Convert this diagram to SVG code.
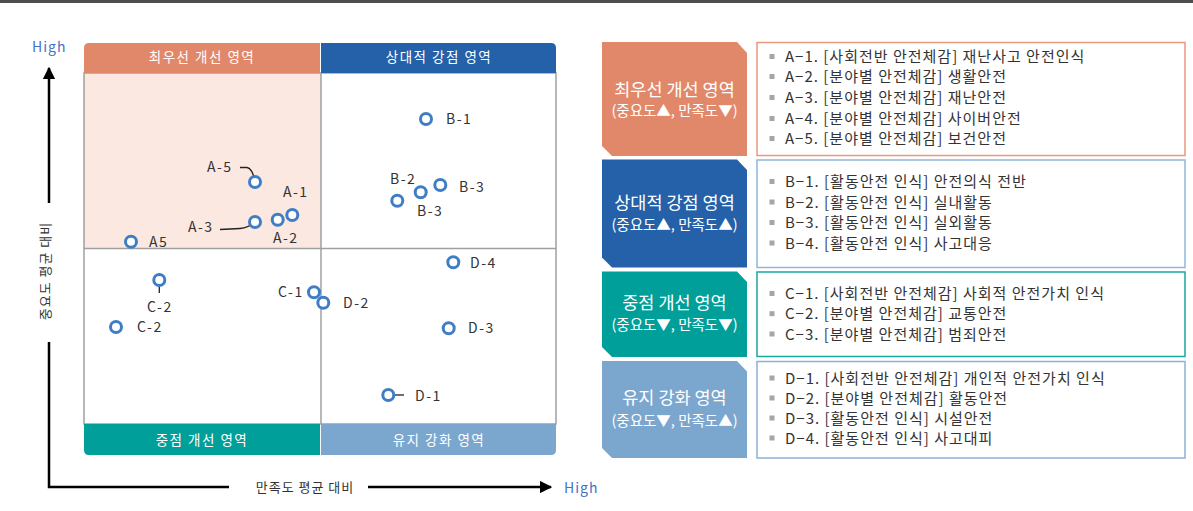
<svg xmlns="http://www.w3.org/2000/svg" width="1193" height="511" viewBox="0 0 1193 511">
<defs>
<style>
.kr{font-family:"Noto Sans CJK KR","Noto Sans",sans-serif;}
.hd{font-size:13.5px;fill:#fff;letter-spacing:1.5px;text-anchor:middle;}
.pl{font-size:14px;fill:#333;letter-spacing:1.5px;}
.pt{fill:#fff;stroke:#3f7dc4;stroke-width:3;}
.ld{fill:none;stroke:#222;stroke-width:1.3;}
.ax{fill:none;stroke:#000;stroke-width:2.5;}
.fr{fill:none;stroke:#a0a0a0;stroke-width:1.5;}
.hi{font-size:14px;fill:#4472c4;letter-spacing:1px;}
.lb1{font-size:17.5px;fill:#fff;text-anchor:middle;}
.lb2{font-size:14.5px;fill:#fff;text-anchor:middle;}
.li{font-size:15px;fill:#333;letter-spacing:1px;}
.bl{fill:#a6a6a6;}
</style>
<marker id="ah" viewBox="0 0 10 10" refX="9" refY="5" markerWidth="5" markerHeight="5" orient="auto-start-reverse" markerUnits="strokeWidth">
<path d="M0,0 L10,5 L0,10 Z" fill="#000"/>
</marker>
</defs>
<rect x="0" y="0" width="1193" height="3" fill="#4d4d4d"/>

<!-- Quadrant chart -->
<g id="quadrants">
<rect x="84" y="73" width="237" height="175" fill="#fbe8e1"/>
<path d="M84,73 H556 V424 H84 Z" class="fr"/>
<line x1="84" y1="248.5" x2="556" y2="248.5" class="fr"/>
<line x1="321" y1="73" x2="321" y2="424" class="fr"/>
</g>
<g id="hdr-tl">
<path d="M84,73 V48 Q84,43 89,43 H320 V73 Z" fill="#e2886a"/>
<text class="kr hd" x="202" y="62">최우선 개선 영역</text>
</g>
<g id="hdr-tr">
<path d="M321,73 V43 H551 Q556,43 556,48 V73 Z" fill="#2461a8"/>
<text class="kr hd" x="439" y="62">상대적 강점 영역</text>
</g>
<g id="hdr-bl">
<path d="M84,424 H320 V455 H89 Q84,455 84,450 Z" fill="#009f9a"/>
<text class="kr hd" x="202" y="445">중점 개선 영역</text>
</g>
<g id="hdr-br">
<path d="M321,424 H556 V450 Q556,455 551,455 H321 Z" fill="#7ba7cf"/>
<text class="kr hd" x="439" y="445">유지 강화 영역</text>
</g>

<!-- Axes -->
<g id="axes">
<line x1="49" y1="203" x2="49" y2="68" class="ax" marker-end="url(#ah)"/>
<path d="M49,342 V487 H229" class="ax"/>
<line x1="368" y1="487" x2="551" y2="487" class="ax" marker-end="url(#ah)"/>
<text class="kr hi" x="32" y="52">High</text>
<text class="kr hi" x="564" y="493">High</text>
<text class="kr" x="305" y="492" font-size="13" fill="#333" letter-spacing="1" text-anchor="middle">만족도 평균 대비</text>
<text class="kr" transform="translate(50,271) rotate(-90)" font-size="13" fill="#333" letter-spacing="1" text-anchor="middle">중요도 평균 대비</text>
</g>

<!-- Connectors (leader lines) -->
<g id="connectors">
<path class="ld" d="M240,167.5 L247,167.5 Q252,168 255,181"/>
<path class="ld" d="M220,229.5 L240,228.5 Q248,228 255,222"/>
<line class="ld" x1="159.3" y1="280" x2="159.3" y2="293"/>
<line class="ld" x1="388" y1="395" x2="404" y2="395"/>
</g>

<!-- Points -->
<g id="pt-A5"><circle class="pt" cx="255" cy="182" r="5.5"/><text class="kr pl" x="207" y="172">A-5</text></g>
<g id="pt-A3"><circle class="pt" cx="255" cy="222" r="5.5"/><text class="kr pl" x="188" y="232">A-3</text></g>
<g id="pt-A2"><circle class="pt" cx="277.7" cy="219.7" r="5.5"/><text class="kr pl" x="273" y="243">A-2</text></g>
<g id="pt-A1"><circle class="pt" cx="292.3" cy="215" r="5.5"/><text class="kr pl" x="283" y="197">A-1</text></g>
<g id="pt-A5b"><circle class="pt" cx="131" cy="241.7" r="5.5"/><text class="kr pl" x="149" y="247">A5</text></g>
<g id="pt-B1"><circle class="pt" cx="426" cy="119" r="5.5"/><text class="kr pl" x="446" y="124">B-1</text></g>
<g id="pt-B2"><circle class="pt" cx="397.3" cy="200.7" r="5.5"/><text class="kr pl" x="390" y="184">B-2</text></g>
<g id="pt-B3a"><circle class="pt" cx="420.7" cy="192.3" r="5.5"/><text class="kr pl" x="417" y="216">B-3</text></g>
<g id="pt-B3b"><circle class="pt" cx="440.3" cy="185" r="5.5"/><text class="kr pl" x="459" y="192">B-3</text></g>
<g id="pt-C2a"><circle class="pt" cx="159.3" cy="280" r="5.5"/><text class="kr pl" x="147" y="312">C-2</text></g>
<g id="pt-C2b"><circle class="pt" cx="116" cy="327" r="5.5"/><text class="kr pl" x="137" y="332">C-2</text></g>
<g id="pt-C1"><circle class="pt" cx="314" cy="292.3" r="5.5"/><text class="kr pl" x="278" y="297">C-1</text></g>
<g id="pt-D2"><circle class="pt" cx="323.3" cy="302.7" r="5.5"/><text class="kr pl" x="343" y="308">D-2</text></g>
<g id="pt-D4"><circle class="pt" cx="453.3" cy="262.3" r="5.5"/><text class="kr pl" x="470" y="268">D-4</text></g>
<g id="pt-D3"><circle class="pt" cx="448.7" cy="328.3" r="5.5"/><text class="kr pl" x="468" y="333">D-3</text></g>
<g id="pt-D1"><circle class="pt" cx="388.3" cy="395" r="5.5"/><text class="kr pl" x="415" y="401">D-1</text></g>

<!-- Legend A -->
<g id="label-A">
<path d="M602,42 H737 L747,53 V156 H612 L602,146 Z" fill="#e2886a"/>
<text class="kr lb1" x="674.5" y="96">최우선 개선 영역</text>
<text class="kr lb2" x="674.5" y="116">(중요도▲, 만족도▼)</text>
</g>
<g id="list-A">
<rect x="757" y="42.5" width="428" height="113" fill="#fff" stroke="#e8997f" stroke-width="1.5"/>
<rect class="bl" x="769.5" y="54" width="5" height="5"/><text class="kr li" x="785" y="62">A−1. [사회전반 안전체감] 재난사고 안전인식</text>
<rect class="bl" x="769.5" y="74" width="5" height="5"/><text class="kr li" x="785" y="82">A−2. [분야별 안전체감] 생활안전</text>
<rect class="bl" x="769.5" y="95" width="5" height="5"/><text class="kr li" x="785" y="103">A−3. [분야별 안전체감] 재난안전</text>
<rect class="bl" x="769.5" y="116" width="5" height="5"/><text class="kr li" x="785" y="124">A−4. [분야별 안전체감] 사이버안전</text>
<rect class="bl" x="769.5" y="136" width="5" height="5"/><text class="kr li" x="785" y="144">A−5. [분야별 안전체감] 보건안전</text>
</g>

<!-- Legend B -->
<g id="label-B">
<path d="M602,159.5 H737 L747,170 V267.5 H612 L602,257.5 Z" fill="#2461a8"/>
<text class="kr lb1" x="674.5" y="209">상대적 강점 영역</text>
<text class="kr lb2" x="674.5" y="230">(중요도▲, 만족도▲)</text>
</g>
<g id="list-B">
<rect x="757" y="160" width="428" height="107.5" fill="#fff" stroke="#8db7dc" stroke-width="1.5"/>
<rect class="bl" x="769.5" y="179" width="5" height="5"/><text class="kr li" x="785" y="187">B−1. [활동안전 인식] 안전의식 전반</text>
<rect class="bl" x="769.5" y="199.5" width="5" height="5"/><text class="kr li" x="785" y="207.5">B−2. [활동안전 인식] 실내활동</text>
<rect class="bl" x="769.5" y="220" width="5" height="5"/><text class="kr li" x="785" y="228">B−3. [활동안전 인식] 실외활동</text>
<rect class="bl" x="769.5" y="240.5" width="5" height="5"/><text class="kr li" x="785" y="248.5">B−4. [활동안전 인식] 사고대응</text>
</g>

<!-- Legend C -->
<g id="label-C">
<path d="M602,271.5 H737 L747,282 V357 H612 L602,347 Z" fill="#009f9a"/>
<text class="kr lb1" x="674.5" y="309">중점 개선 영역</text>
<text class="kr lb2" x="674.5" y="330">(중요도▼, 만족도▼)</text>
</g>
<g id="list-C">
<rect x="757" y="272" width="428" height="84.5" fill="#fff" stroke="#1aa6a2" stroke-width="1.5"/>
<rect class="bl" x="769.5" y="291" width="5" height="5"/><text class="kr li" x="785" y="299">C−1. [사회전반 안전체감] 사회적 안전가치 인식</text>
<rect class="bl" x="769.5" y="311.2" width="5" height="5"/><text class="kr li" x="785" y="319.2">C−2. [분야별 안전체감] 교통안전</text>
<rect class="bl" x="769.5" y="331.5" width="5" height="5"/><text class="kr li" x="785" y="339.5">C−3. [분야별 안전체감] 범죄안전</text>
</g>

<!-- Legend D -->
<g id="label-D">
<path d="M602,361 H737 L747,371.5 V458 H612 L602,448 Z" fill="#7ba7cf"/>
<text class="kr lb1" x="674.5" y="404">유지 강화 영역</text>
<text class="kr lb2" x="674.5" y="426">(중요도▼, 만족도▲)</text>
</g>
<g id="list-D">
<rect x="757" y="361.5" width="428" height="96.5" fill="#fff" stroke="#8eb0d6" stroke-width="1.5"/>
<rect class="bl" x="769.5" y="375.5" width="5" height="5"/><text class="kr li" x="785" y="383.5">D−1. [사회전반 안전체감] 개인적 안전가치 인식</text>
<rect class="bl" x="769.5" y="395.5" width="5" height="5"/><text class="kr li" x="785" y="403.5">D−2. [분야별 안전체감] 활동안전</text>
<rect class="bl" x="769.5" y="415.5" width="5" height="5"/><text class="kr li" x="785" y="423.5">D−3. [활동안전 인식] 시설안전</text>
<rect class="bl" x="769.5" y="435.5" width="5" height="5"/><text class="kr li" x="785" y="443.5">D−4. [활동안전 인식] 사고대피</text>
</g>
</svg>
